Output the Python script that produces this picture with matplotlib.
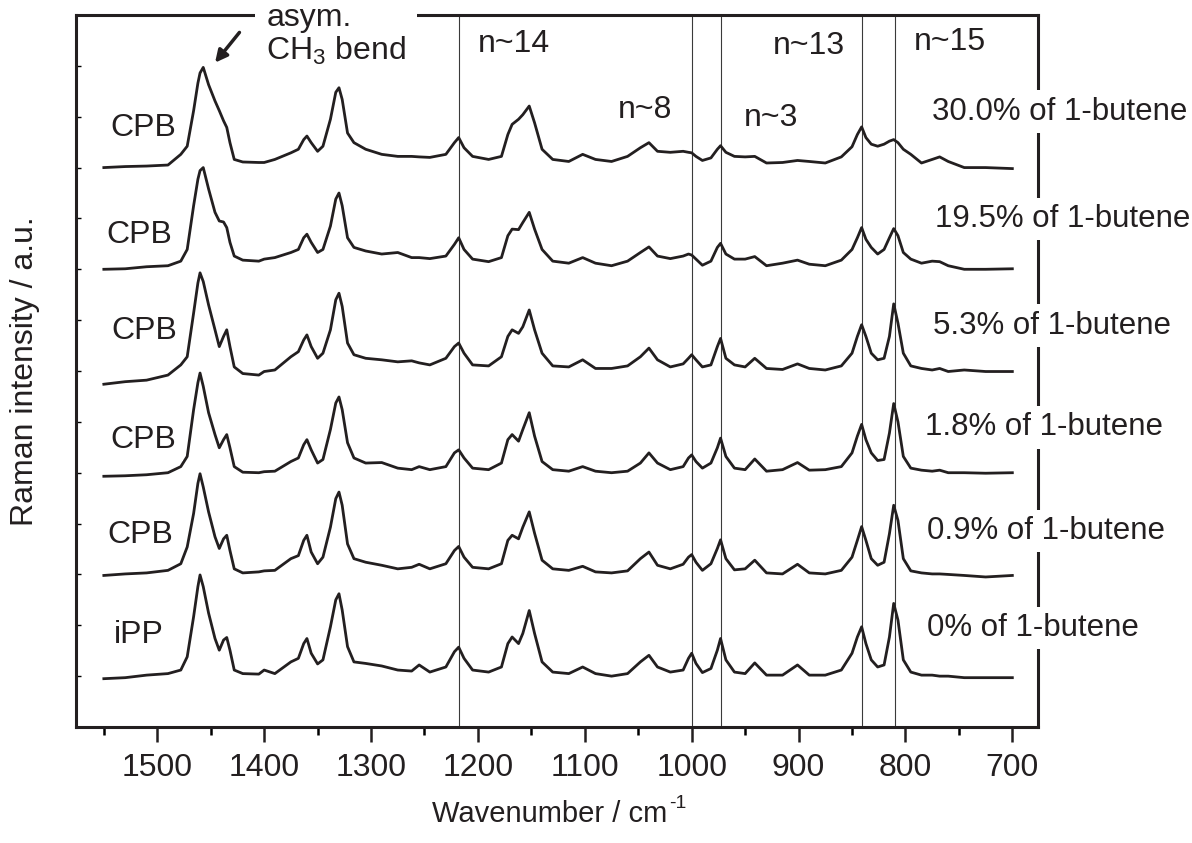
import matplotlib
matplotlib.use('Agg')
import matplotlib.pyplot as plt

plt.rcParams.update({
    'font.family': ['Liberation Sans', 'DejaVu Sans'],
    'font.size': 23,
    'mathtext.fontset': 'custom',
    'mathtext.rm': 'Liberation Sans',
    'mathtext.it': 'Liberation Sans:italic',
})

INK = '#231f20'

# wavenumber grid (cm-1) shared by all spectra
wavenumber = [1550, 1530, 1510, 1490, 1478, 1472, 1466, 1462, 1460, 1457,
              1452, 1446, 1442, 1438, 1435, 1432, 1428, 1420, 1405, 1400,
              1390, 1375, 1368, 1363, 1360, 1356, 1350, 1345, 1338, 1333,
              1330, 1327, 1322, 1316, 1305, 1290, 1275, 1262, 1255, 1245,
              1230, 1222, 1218, 1213, 1205, 1190, 1178, 1172, 1168, 1162,
              1158, 1152, 1147, 1140, 1130, 1115, 1102, 1090, 1075, 1060,
              1048, 1040, 1032, 1020, 1008, 1003, 1000, 996, 990, 982,
              976, 973, 968, 960, 950, 941, 930, 915, 901, 890,
              875, 860, 850, 845, 841, 837, 832, 826, 820, 815,
              811, 807, 802, 795, 785, 775, 768, 760, 745, 725,
              700]

# intensities relative to each spectrum's own baseline
butene_300 = [0.00, 0.02, 0.03, 0.05, 0.26, 0.42, 1.12, 1.66, 1.86, 1.97,
              1.63, 1.31, 1.12, 0.92, 0.79, 0.49, 0.16, 0.11, 0.10, 0.10,
              0.16, 0.29, 0.36, 0.55, 0.62, 0.49, 0.32, 0.42, 0.95, 1.48,
              1.57, 1.34, 0.68, 0.49, 0.36, 0.26, 0.22, 0.22, 0.21, 0.20,
              0.26, 0.49, 0.59, 0.39, 0.22, 0.16, 0.22, 0.65, 0.85, 0.95,
              1.04, 1.21, 0.88, 0.36, 0.16, 0.12, 0.26, 0.16, 0.12, 0.22,
              0.39, 0.49, 0.32, 0.30, 0.32, 0.30, 0.29, 0.22, 0.14, 0.19,
              0.36, 0.43, 0.30, 0.22, 0.21, 0.22, 0.09, 0.10, 0.14, 0.12,
              0.09, 0.21, 0.41, 0.65, 0.80, 0.59, 0.46, 0.42, 0.46, 0.52,
              0.55, 0.49, 0.36, 0.26, 0.09, 0.16, 0.21, 0.12, 0.00, 0.00,
              -0.02]
butene_195 = [0.00, 0.01, 0.05, 0.07, 0.16, 0.39, 1.25, 1.77, 1.94, 2.00,
              1.58, 1.12, 0.95, 0.93, 0.82, 0.53, 0.26, 0.18, 0.16, 0.20,
              0.23, 0.33, 0.39, 0.62, 0.69, 0.53, 0.33, 0.39, 0.85, 1.38,
              1.50, 1.25, 0.62, 0.43, 0.36, 0.30, 0.33, 0.23, 0.23, 0.21,
              0.26, 0.49, 0.62, 0.39, 0.20, 0.15, 0.23, 0.66, 0.79, 0.78,
              0.92, 1.12, 0.79, 0.39, 0.16, 0.12, 0.23, 0.12, 0.07, 0.16,
              0.33, 0.44, 0.26, 0.21, 0.26, 0.30, 0.28, 0.20, 0.08, 0.16,
              0.43, 0.51, 0.30, 0.20, 0.20, 0.25, 0.07, 0.12, 0.18, 0.10,
              0.07, 0.18, 0.39, 0.62, 0.82, 0.59, 0.43, 0.30, 0.39, 0.62,
              0.80, 0.66, 0.33, 0.20, 0.12, 0.16, 0.15, 0.07, 0.00, 0.00,
              0.01]
butene_53 = [-0.26, -0.21, -0.18, -0.08, 0.12, 0.28, 1.14, 1.73, 1.93, 1.76,
             1.30, 0.81, 0.48, 0.68, 0.81, 0.48, 0.08, -0.05, -0.08, -0.01,
             0.02, 0.28, 0.38, 0.61, 0.71, 0.48, 0.25, 0.35, 0.81, 1.40,
             1.53, 1.27, 0.55, 0.32, 0.25, 0.22, 0.18, 0.20, 0.16, 0.12,
             0.25, 0.48, 0.55, 0.35, 0.12, 0.10, 0.28, 0.68, 0.81, 0.74,
             0.87, 1.20, 0.81, 0.35, 0.10, 0.08, 0.22, 0.05, 0.05, 0.10,
             0.28, 0.45, 0.22, 0.08, 0.14, 0.25, 0.32, 0.22, 0.08, 0.12,
             0.48, 0.64, 0.25, 0.12, 0.08, 0.25, 0.05, 0.03, 0.14, 0.05,
             0.02, 0.10, 0.35, 0.68, 0.91, 0.68, 0.35, 0.22, 0.25, 0.68,
             1.32, 0.94, 0.35, 0.10, 0.05, 0.02, 0.05, -0.01, 0.02, -0.01,
             -0.01]
butene_18 = [-0.07, -0.06, -0.04, 0.00, 0.12, 0.32, 1.24, 1.77, 1.96, 1.70,
             1.18, 0.75, 0.49, 0.65, 0.75, 0.49, 0.12, 0.01, 0.00, 0.02,
             0.03, 0.22, 0.29, 0.55, 0.65, 0.45, 0.19, 0.26, 0.85, 1.37,
             1.49, 1.24, 0.59, 0.29, 0.19, 0.20, 0.09, 0.06, 0.12, 0.06,
             0.12, 0.39, 0.45, 0.29, 0.09, 0.06, 0.19, 0.65, 0.75, 0.62,
             0.85, 1.18, 0.72, 0.22, 0.06, 0.03, 0.12, 0.03, 0.00, 0.03,
             0.19, 0.39, 0.19, 0.06, 0.12, 0.29, 0.35, 0.22, 0.09, 0.19,
             0.49, 0.68, 0.32, 0.09, 0.06, 0.27, 0.03, 0.06, 0.20, 0.05,
             0.06, 0.12, 0.39, 0.72, 0.95, 0.65, 0.39, 0.24, 0.26, 0.78,
             1.36, 1.00, 0.32, 0.09, 0.05, 0.03, 0.05, 0.00, 0.00, -0.01,
             0.00]
butene_09 = [-0.02, 0.01, 0.03, 0.08, 0.21, 0.54, 1.20, 1.79, 1.98, 1.72,
             1.23, 0.74, 0.51, 0.70, 0.77, 0.47, 0.11, 0.03, 0.05, 0.07,
             0.08, 0.31, 0.37, 0.67, 0.77, 0.44, 0.21, 0.34, 0.93, 1.49,
             1.62, 1.36, 0.60, 0.31, 0.24, 0.18, 0.11, 0.14, 0.20, 0.11,
             0.21, 0.47, 0.55, 0.34, 0.14, 0.11, 0.21, 0.67, 0.77, 0.70,
             0.93, 1.23, 0.81, 0.28, 0.11, 0.08, 0.16, 0.05, 0.03, 0.07,
             0.31, 0.44, 0.18, 0.11, 0.20, 0.34, 0.39, 0.24, 0.08, 0.21,
             0.51, 0.68, 0.31, 0.09, 0.11, 0.28, 0.03, 0.01, 0.20, 0.03,
             0.01, 0.08, 0.34, 0.67, 0.94, 0.67, 0.31, 0.18, 0.24, 0.80,
             1.36, 1.06, 0.31, 0.07, 0.03, 0.01, 0.01, 0.00, -0.02, -0.05,
             -0.02]
ipp = [-0.05, -0.03, 0.02, 0.05, 0.12, 0.38, 1.17, 1.76, 1.99, 1.76,
       1.24, 0.74, 0.51, 0.71, 0.76, 0.51, 0.12, 0.05, 0.04, 0.12,
       0.05, 0.28, 0.35, 0.64, 0.74, 0.45, 0.24, 0.32, 0.97, 1.50,
       1.62, 1.30, 0.58, 0.28, 0.25, 0.20, 0.12, 0.10, 0.22, 0.08,
       0.18, 0.48, 0.57, 0.35, 0.12, 0.08, 0.18, 0.64, 0.77, 0.64,
       0.84, 1.29, 0.84, 0.28, 0.08, 0.05, 0.18, 0.05, 0.00, 0.05,
       0.28, 0.41, 0.18, 0.08, 0.12, 0.35, 0.45, 0.25, 0.07, 0.15,
       0.51, 0.74, 0.32, 0.08, 0.05, 0.26, 0.02, 0.02, 0.22, 0.02,
       0.02, 0.12, 0.45, 0.77, 0.97, 0.64, 0.32, 0.18, 0.22, 0.77,
       1.43, 1.10, 0.32, 0.08, 0.02, 0.02, 0.00, 0.00, -0.03, -0.03,
       -0.03]

spectra = [butene_300, butene_195, butene_53, butene_18, butene_09, ipp]
offsets = [10, 8, 6, 4, 2, 0]
sample_names = ['CPB', 'CPB', 'CPB', 'CPB', 'CPB', 'iPP']
name_y = [10.78, 8.67, 6.78, 4.65, 2.78, 0.81]
name_x = [1513, 1517, 1512, 1513, 1516, 1517]
content_labels = ['30.0% of 1-butene', '19.5% of 1-butene', '5.3% of 1-butene',
                  '1.8% of 1-butene', '0.9% of 1-butene', '0% of 1-butene']
content_x = [775, 772, 774, 782, 780, 780]
content_y = [11.1, 8.99, 6.89, 4.89, 2.85, 0.95]

# marker lines and chain length notes
marker_lines = [1218, 1000, 973, 841, 810]
chain_notes = ['n~14', 'n~8', 'n~3', 'n~13', 'n~15']
chain_x = [1166, 1044, 926, 890, 758]
chain_y = [12.43, 11.13, 10.98, 12.39, 12.47]

fig = plt.figure(figsize=(11.92, 8.43), dpi=100)
ax = fig.add_axes([0.0638, 0.1376, 0.8070, 0.8446])

for spec, off in zip(spectra, offsets):
    ax.plot(wavenumber, [v + off for v in spec], color=INK, lw=2.0, zorder=2)

for wn in marker_lines:
    ax.axvline(wn, color='#3a3a3a', lw=0.8, zorder=1.5)

ax.set_xlim(1576, 676)
ax.set_ylim(-1, 13)

ax.set_xticks([1500, 1400, 1300, 1200, 1100, 1000, 900, 800, 700])
ax.set_xticks([1550, 1450, 1350, 1250, 1150, 1050, 950, 850, 750], minor=True)
ax.set_yticks(range(0, 13))
ax.set_yticklabels([])
ax.tick_params(axis='x', which='major', direction='out', length=11, width=1.8,
               pad=8, labelsize=23, colors=INK)
ax.tick_params(axis='x', which='minor', direction='out', length=6, width=1.8)
ax.tick_params(axis='y', which='major', direction='in', length=3.5, width=1.0,
               left=True, right=False)
for side in ['left', 'right', 'top', 'bottom']:
    ax.spines[side].set_linewidth(2.2)
    ax.spines[side].set_color(INK)

white_box = dict(boxstyle='square,pad=0.2', fc='white', ec='none')

for name, x, y in zip(sample_names, name_x, name_y):
    ax.text(x, y, name, ha='center', va='center', color=INK, zorder=4,
            bbox=white_box)

for lab, x, y in zip(content_labels, content_x, content_y):
    ax.text(x, y, lab, ha='left', va='center', color=INK, zorder=4,
            fontsize=22.5, bbox=white_box, clip_on=False)

for note, x, y in zip(chain_notes, chain_x, chain_y):
    ax.text(x, y, note, ha='center', va='center', color=INK, zorder=4)

ax.text(1398, 13.24, 'asym.\nCH$_3$ bend', ha='left', va='top', color=INK,
        linespacing=1.1, zorder=4, clip_on=False,
        bbox=dict(boxstyle='square,pad=0.35', fc='white', ec='none'))
ax.annotate('', xy=(1447.6, 12.02), xytext=(1421.5, 12.7),
            arrowprops=dict(arrowstyle='-|>', color=INK, lw=2.5,
                            mutation_scale=18), zorder=4)

fig.text(25 / 1192, 1 - 371 / 843, 'Raman intensity / a.u.', rotation=90,
         ha='center', va='center', color=INK)
fig.text(667 / 1192, 1 - 822 / 843, 'Wavenumber / cm', ha='right',
         va='baseline', color=INK, fontsize=21)
fig.text(669 / 1192, 1 - 808 / 843, '-1', ha='left', va='baseline',
         color=INK, fontsize=14)

fig.savefig('out.png', dpi=100, facecolor='white')
